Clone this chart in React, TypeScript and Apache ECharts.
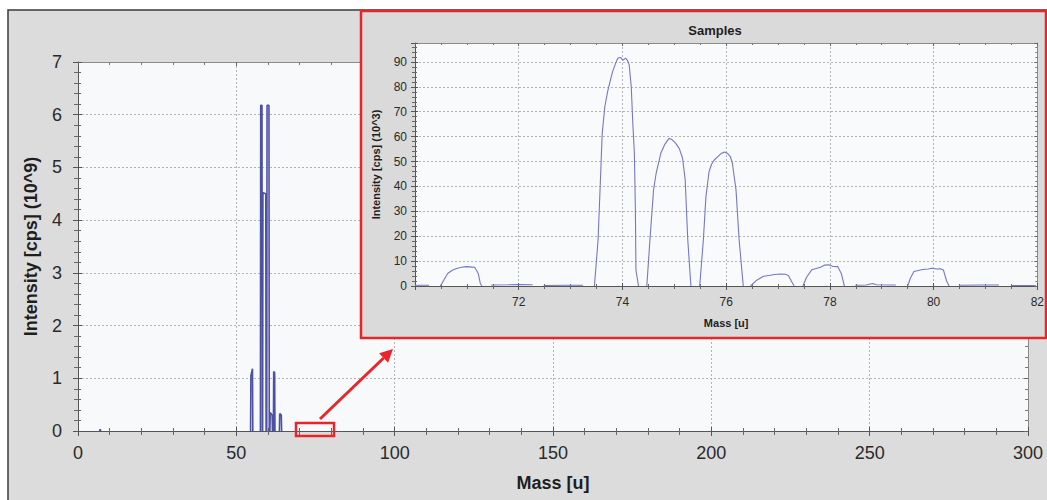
import React, { useEffect, useRef } from "react";
import * as echarts from "echarts";

// ---- Main spectrum (Mass [u] vs Intensity [cps] (10^9)); null separates peaks
const mainMass = [
  6.8, 7.0, 7.2, null,
  54.5, 54.6, 55.1, 55.2, null,
  57.6, 57.7, 58.1, 58.2, null,
  58.3, 58.4, 59.3, 59.4, null,
  59.6, 59.7, 60.3, 60.4, null,
  60.6, 60.7, 61.3, 61.4, null,
  61.7, 61.8, 62.1, 62.2, null,
  63.6, 63.7, 64.2, 64.3,
];
const mainIntensity = [
  0, 0.03, 0, null,
  0, 1.05, 1.18, 0, null,
  0, 6.18, 6.18, 0, null,
  0, 4.52, 4.5, 0, null,
  0, 6.18, 6.18, 0, null,
  0, 0.35, 0.3, 0, null,
  0, 1.13, 1.1, 0, null,
  0, 0.33, 0.3, 0,
];

// ---- Inset "Samples" (Mass [u] vs Intensity [cps] (10^3)); null separates segments
const insetMass = [
  70.0, 70.27, null,
  70.49, 70.56, 70.63, 70.72, 70.8, 70.92, 71.0, 71.05, 71.1, 71.15, 71.22, 71.26, 71.29, null,
  71.47, 71.8, 72.0, 72.27, null,
  72.48, 72.9, 73.24, null,
  73.46, 73.53, 73.58, 73.61, 73.66, 73.72, 73.81, 73.86, 73.91, 73.96, 74.01, 74.06, 74.1, 74.13, 74.17, 74.2, 74.23, 74.25, 74.26, 74.31, null,
  74.47, 74.53, 74.6, 74.65, 74.74, 74.82, 74.9, 74.96, 75.03, 75.1, 75.16, 75.21, 75.26, 75.32, null,
  75.49, 75.56, 75.61, 75.67, 75.72, 75.77, 75.84, 75.9, 75.97, 76.03, 76.08, 76.12, 76.19, 76.25, 76.33, null,
  76.47, 76.58, 76.72, 76.85, 76.93, 77.05, 77.14, 77.2, 77.27, 77.31, null,
  77.48, 77.55, 77.65, 77.82, 77.9, 77.98, 78.05, 78.15, 78.22, 78.28, null,
  78.49, 78.7, 78.82, 78.9, 79.27, null,
  79.5, 79.55, 79.62, 79.79, 79.9, 79.96, 80.05, 80.13, 80.19, 80.25, 80.3, null,
  80.5, 80.9, 81.26, null,
  81.51, 81.97,
];
const insetIntensity = [
  0.3, 0.3, null,
  0, 2.5, 5, 6.3, 7, 7.6, 7.8, 7.7, 7.6, 7.5, 5, 1, 0, null,
  0.4, 0.5, 0.6, 0.5, null,
  0.2, 0.3, 0.3, null,
  0, 18.5, 45, 61.3, 72, 78.7, 86.1, 89, 91.5, 91.8, 90.7, 91.5, 90.5, 88.8, 80, 65.3, 53.4, 30, 6.4, 0, null,
  0, 18.5, 38.6, 45.3, 53.3, 57, 59.3, 58.7, 57.3, 55, 51.3, 42.6, 18.5, 0, null,
  0, 18.5, 35.9, 45.9, 49, 50.6, 52, 53.2, 53.8, 53.2, 52, 49.3, 38.6, 18.5, 0, null,
  0, 2.2, 3.9, 4.3, 4.6, 4.8, 4.7, 4.2, 1.5, 0, null,
  0, 3.5, 6.5, 7.5, 8.4, 8.5, 7.9, 7.8, 5, 0, null,
  0.3, 0.4, 1, 0.5, 0.4, null,
  0, 3, 5.8, 6.6, 6.8, 7.1, 6.8, 6.9, 6.4, 2, 0, null,
  0.3, 0.4, 0.4, null,
  0.2, 0.2,
];

const mainXTicks = [0, 300, 50];
const mainYTicks = [0, 7, 1];
const insetXTicks = [70, 82, 2];
const insetYTicks = [0, 97.6, 10];

const FONT = "'Liberation Sans', Arial, sans-serif";
const RED = "#e8262a";

function pairs(xs: (number | null)[], ys: (number | null)[]) {
  return xs.map((x, i) => (x === null || ys[i] === null ? ["-", "-"] : [x, ys[i]]));
}

function axisSet(
  kind: "x" | "y",
  gridIndex: number,
  range: number[],
  minorSplit: number,
  labelStyle: any,
  name: string,
  nameStyle: any,
  nameGap: number,
  labelMargin: number,
  tickLen: number,
  formatter: (v: number) => string,
  z: number,
  showSplit = true
) {
  const base = { type: "value", gridIndex, min: range[0], max: range[1], interval: range[2], z };
  const mainPos = kind === "x" ? "bottom" : "left";
  const oppPos = kind === "x" ? "top" : "right";
  const primary = {
    ...base,
    position: mainPos,
    name,
    nameLocation: "middle",
    nameGap,
    nameTextStyle: nameStyle,
    axisLine: { show: true, onZero: false, lineStyle: { color: "#555", width: 1 } },
    axisTick: { show: true, inside: false, length: tickLen, lineStyle: { color: "#555" } },
    minorTick: { show: true, splitNumber: minorSplit, length: tickLen - 1, lineStyle: { color: "#666" } },
    axisLabel: { ...labelStyle, margin: labelMargin, formatter },
    splitLine: showSplit
      ? { show: true, lineStyle: { color: "#b4b4b4", type: [2, 2], width: 1 } }
      : { show: false },
    minorSplitLine: { show: false },
  };
  const inner = {
    ...base,
    position: mainPos,
    axisLine: { show: false, onZero: false },
    axisTick: { show: true, inside: true, length: tickLen - 1, lineStyle: { color: "#555" } },
    minorTick: { show: true, splitNumber: minorSplit, length: tickLen - 2, lineStyle: { color: "#666" } },
    axisLabel: { show: false },
    splitLine: { show: false },
  };
  const opp = {
    ...base,
    position: oppPos,
    axisLine: { show: true, onZero: false, lineStyle: { color: "#8a8a8a", width: 1 } },
    axisTick: { show: true, inside: true, length: tickLen - 1, lineStyle: { color: "#666" } },
    minorTick: { show: true, splitNumber: minorSplit, length: tickLen - 2, lineStyle: { color: "#777" } },
    axisLabel: { show: false },
    splitLine: { show: false },
  };
  return [primary, inner, opp];
}

export default function App() {
  const ref = useRef<HTMLDivElement>(null);

  useEffect(() => {
    if (!ref.current) return;
    const chart = echarts.init(ref.current, undefined, { renderer: "svg" });

    const mainLabel = { fontFamily: FONT, fontSize: 18, color: "#2a2a2a" };
    const mainName = { fontFamily: FONT, fontSize: 18, fontWeight: "bold", color: "#1e1e1e" };
    const insetLabel = { fontFamily: FONT, fontSize: 12, color: "#2a2a2a" };
    const insetName = { fontFamily: FONT, fontSize: 11, fontWeight: "bold", color: "#1e1e1e" };

    const mainX = axisSet("x", 0, mainXTicks, 5, mainLabel, "Mass [u]", mainName, 43, 13, 5, (v) => String(v), 2);
    const mainY = axisSet("y", 0, mainYTicks, 5, mainLabel, "Intensity [cps] (10^9)", mainName, 38, 16, 5, (v) => String(v), 2);
    const insetX = axisSet("x", 1, insetXTicks, 4, insetLabel, "Mass [u]", insetName, 31, 10, 4,
      (v) => (v === insetXTicks[0] ? "" : String(v)), 7);
    const insetY = axisSet("y", 1, insetYTicks, 5, insetLabel, "Intensity [cps] (10^3)", insetName, 34, 8, 4,
      (v) => (Math.abs(v % 10) < 1e-6 ? String(v) : ""), 7);

    // arrow geometry (annotation)
    const tip = [393, 349];
    const tail = [320, 419];
    const dx = tip[0] - tail[0];
    const dy = tip[1] - tail[1];
    const len = Math.sqrt(dx * dx + dy * dy);
    const ux = dx / len, uy = dy / len;
    const hl = 13, hw = 6.5;
    const bx = tip[0] - ux * hl, by = tip[1] - uy * hl;

    chart.setOption({
      animation: false,
      backgroundColor: "#ffffff",
      title: {
        text: "Samples",
        left: 710,
        top: 19,
        textAlign: "center",
        textStyle: { fontFamily: FONT, fontSize: 13, fontWeight: "bold", color: "#1e1e1e" },
        z: 9,
      },
      grid: [
        { left: 78, top: 62, width: 950, height: 369, show: true, backgroundColor: "#f8f9fb", borderWidth: 0, z: 1 },
        { left: 415, top: 43, width: 624, height: 243, show: true, backgroundColor: "#f9fafb", borderWidth: 0, z: 6 },
      ],
      xAxis: [...mainX, ...insetX],
      yAxis: [...mainY, ...insetY],
      series: [
        {
          type: "line",
          xAxisIndex: 0,
          yAxisIndex: 0,
          data: pairs(mainMass, mainIntensity),
          showSymbol: false,
          connectNulls: false,
          lineStyle: { color: "#4d51a3", width: 1.6 },
          z: 3,
        },
        {
          type: "line",
          xAxisIndex: 3,
          yAxisIndex: 3,
          data: pairs(insetMass, insetIntensity),
          showSymbol: false,
          connectNulls: false,
          lineStyle: { color: "#7478c4", width: 1.1 },
          z: 8,
        },
      ],
      graphic: [
        {
          type: "rect",
          z: 0,
          silent: true,
          shape: { x: 8, y: 10, width: 1045, height: 495 },
          style: { fill: "#dcdcdc", stroke: "#3a3a3a", lineWidth: 1.5 },
        },
        {
          type: "rect",
          z: 5,
          silent: true,
          shape: { x: 361, y: 11, width: 685, height: 327 },
          style: { fill: "#dadada", stroke: RED, lineWidth: 2.5 },
        },
        {
          type: "rect",
          z: 10,
          silent: true,
          shape: { x: 296, y: 423, width: 38, height: 13 },
          style: { fill: "none", stroke: RED, lineWidth: 2.5 },
        },
        {
          type: "line",
          z: 10,
          silent: true,
          shape: { x1: tail[0], y1: tail[1], x2: bx, y2: by },
          style: { stroke: RED, lineWidth: 3 },
        },
        {
          type: "polygon",
          z: 10,
          silent: true,
          shape: {
            points: [
              tip,
              [bx + -uy * hw, by + ux * hw],
              [bx - -uy * hw, by - ux * hw],
            ],
          },
          style: { fill: RED },
        },
      ],
    });

    return () => chart.dispose();
  }, []);

  return (
    <div
      ref={ref}
      style={{ position: "fixed", left: 0, top: 0, width: 1047, height: 500 }}
    />
  );
}
